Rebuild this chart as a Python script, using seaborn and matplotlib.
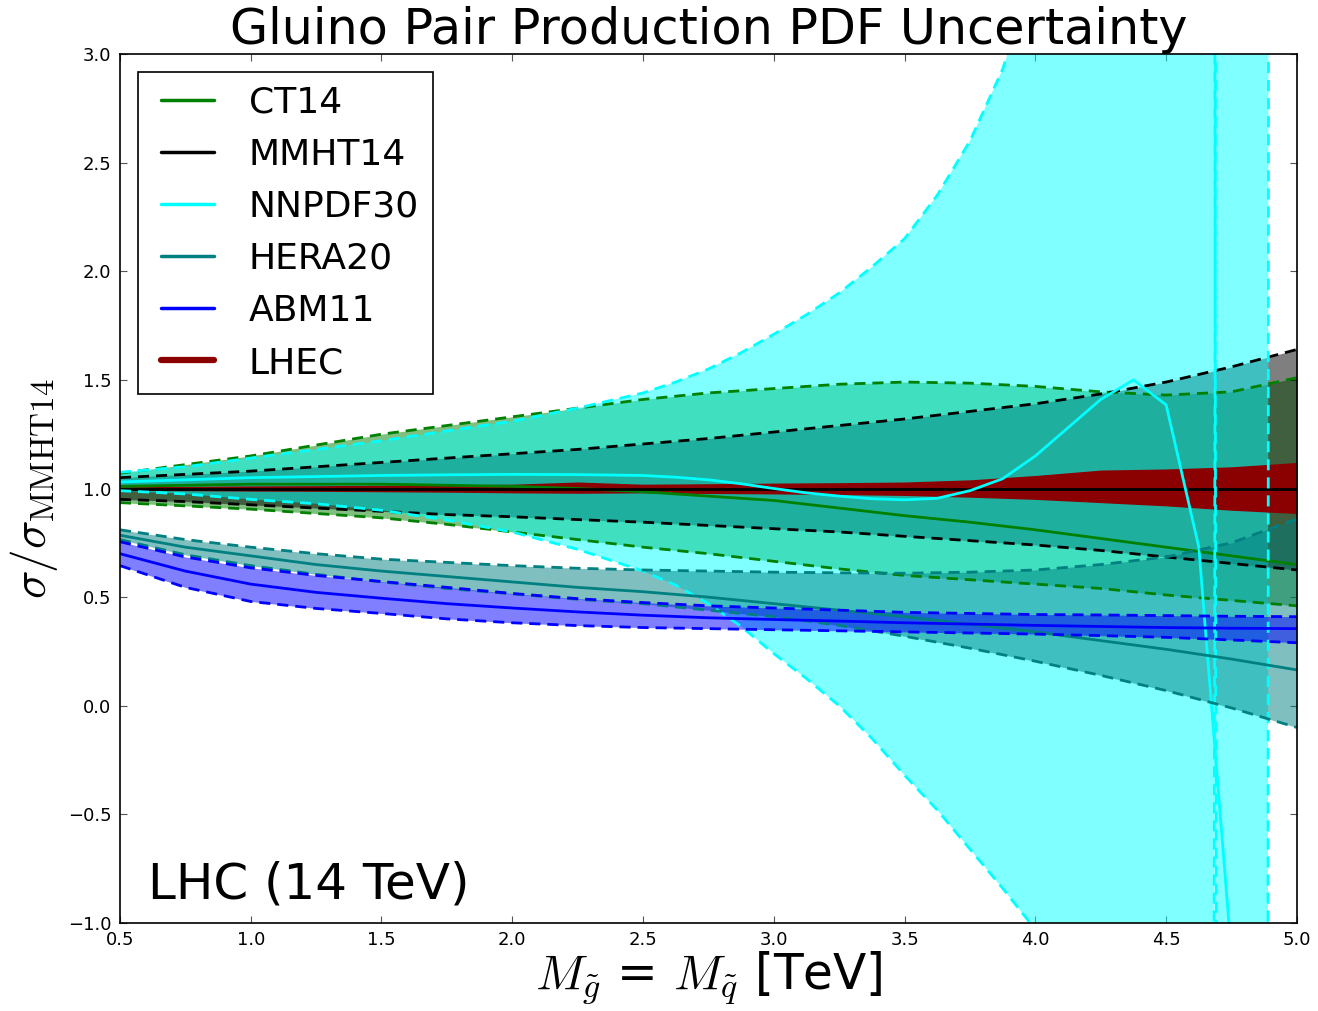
import matplotlib
matplotlib.use("Agg")
import matplotlib.pyplot as plt
from matplotlib.lines import Line2D
from matplotlib.legend_handler import HandlerLine2D
import seaborn as sns

# gluino mass grid [TeV]
mass = [0.5, 0.75, 1.0, 1.25, 1.5, 1.75, 2.0, 2.25, 2.5, 2.75, 3.0,
        3.25, 3.5, 3.75, 4.0, 4.25, 4.5, 4.75, 5.0]

ct14_up = [1.07, 1.11, 1.15, 1.20, 1.25, 1.29, 1.33, 1.37, 1.41, 1.44, 1.46,
           1.48, 1.49, 1.485, 1.47, 1.445, 1.43, 1.445, 1.51]
ct14_mid = [1.01, 1.015, 1.02, 1.02, 1.02, 1.015, 1.01, 1.0, 0.985, 0.965, 0.945,
            0.91, 0.875, 0.845, 0.81, 0.77, 0.73, 0.69, 0.65]
ct14_low = [0.935, 0.92, 0.905, 0.885, 0.865, 0.835, 0.80, 0.765, 0.73, 0.70, 0.665,
            0.63, 0.60, 0.58, 0.56, 0.54, 0.51, 0.485, 0.46]

mmht_up = [1.05, 1.065, 1.08, 1.10, 1.12, 1.14, 1.16, 1.18, 1.205, 1.23, 1.26,
           1.29, 1.32, 1.355, 1.39, 1.435, 1.49, 1.56, 1.64]
mmht_mid = [1.0, 1.0, 1.0, 1.0, 1.0, 1.0, 1.0, 1.0, 1.0, 1.0, 1.0,
            1.0, 1.0, 1.0, 1.0, 1.0, 1.0, 1.0, 1.0]
mmht_low = [0.95, 0.94, 0.925, 0.91, 0.895, 0.88, 0.87, 0.857, 0.845, 0.83, 0.815,
            0.80, 0.78, 0.76, 0.74, 0.715, 0.685, 0.655, 0.625]

hera_up = [0.81, 0.765, 0.73, 0.70, 0.675, 0.66, 0.645, 0.633, 0.625, 0.62, 0.615,
           0.612, 0.61, 0.615, 0.625, 0.65, 0.685, 0.75, 0.86]
hera_mid = [0.785, 0.73, 0.69, 0.65, 0.62, 0.595, 0.57, 0.545, 0.525, 0.50, 0.47,
            0.44, 0.41, 0.375, 0.34, 0.30, 0.26, 0.215, 0.165]
hera_low = [0.765, 0.695, 0.645, 0.605, 0.57, 0.54, 0.515, 0.49, 0.47, 0.44, 0.41,
            0.37, 0.32, 0.265, 0.205, 0.14, 0.07, -0.01, -0.10]

abm_up = [0.755, 0.685, 0.635, 0.60, 0.572, 0.545, 0.517, 0.493, 0.475, 0.46, 0.45,
          0.44, 0.43, 0.425, 0.42, 0.418, 0.415, 0.412, 0.41]
abm_mid = [0.70, 0.62, 0.56, 0.522, 0.495, 0.47, 0.45, 0.432, 0.417, 0.405, 0.397,
           0.39, 0.382, 0.376, 0.37, 0.365, 0.36, 0.357, 0.355]
abm_low = [0.645, 0.545, 0.48, 0.448, 0.425, 0.40, 0.382, 0.369, 0.36, 0.355, 0.35,
           0.345, 0.34, 0.335, 0.33, 0.323, 0.315, 0.303, 0.29]

lhec_up = [1.008, 1.01, 1.012, 1.013, 1.015, 1.017, 1.02, 1.03, 1.02, 1.022, 1.025,
           1.027, 1.03, 1.04, 1.06, 1.085, 1.09, 1.10, 1.12]
lhec_low = [0.992, 0.99, 0.988, 0.987, 0.985, 0.983, 0.98, 0.978, 0.98, 0.977, 0.975,
            0.972, 0.968, 0.96, 0.95, 0.935, 0.92, 0.90, 0.885]

# NNPDF needs a finer grid near the high-mass blow-up
nnpdf_mass = [0.5, 0.75, 1.0, 1.25, 1.5, 1.75, 2.0, 2.25, 2.5, 2.625, 2.75, 2.875, 3.0,
              3.125, 3.25, 3.375, 3.5, 3.625, 3.75, 3.875, 4.0, 4.125, 4.25, 4.375,
              4.5, 4.625, 4.75, 4.875, 5.0]
nnpdf_up = [1.075, 1.10, 1.14, 1.18, 1.22, 1.265, 1.31, 1.37, 1.44, 1.49, 1.55, 1.625, 1.71,
            1.80, 1.90, 2.02, 2.15, 2.35, 2.6, 2.93, 3.4, 4.0, 4.8, 6.0,
            8.5, 52.0, -48.0, -30.0, 220.0]
nnpdf_mid = [1.03, 1.04, 1.05, 1.055, 1.06, 1.063, 1.065, 1.064, 1.06, 1.052, 1.04, 1.022, 1.0,
             0.98, 0.965, 0.953, 0.948, 0.955, 0.99, 1.045, 1.15, 1.28, 1.41, 1.50,
             1.385, 0.73, -1.15, -9.0, -9.0]
nnpdf_low = [0.99, 0.975, 0.95, 0.93, 0.90, 0.855, 0.80, 0.72, 0.62, 0.555, 0.47, 0.365, 0.24,
             0.125, 0.0, -0.15, -0.32, -0.48, -0.66, -0.84, -1.03, -1.3, -1.7, -2.3,
             -3.5, -48.0, 52.0, 60.0, 80.0]

sets = [
    ("CT14", "#008000", mass, ct14_low, ct14_mid, ct14_up),
    ("MMHT14", "#000000", mass, mmht_low, mmht_mid, mmht_up),
    ("NNPDF30", "#00ffff", nnpdf_mass, nnpdf_low, nnpdf_mid, nnpdf_up),
    ("HERA20", "#008080", mass, hera_low, hera_mid, hera_up),
    ("ABM11", "#0000ff", mass, abm_low, abm_mid, abm_up),
]

sns.set_style("ticks")
plt.rcParams['font.family'] = ['DejaVu Sans']
plt.rcParams['mathtext.fontset'] = 'cm'
plt.rcParams['text.color'] = 'black'
plt.rcParams['axes.labelcolor'] = 'black'
plt.rcParams['xtick.color'] = 'black'
plt.rcParams['ytick.color'] = 'black'

fig = plt.figure(figsize=(13.18, 10.11), dpi=100)
ax = fig.add_axes([0.091, 0.087, 0.893, 0.8596])

# bands
for name, col, x, lo, mid, hi in sets:
    ax.fill_between(x, lo, hi, color=col, alpha=0.5, lw=0)
ax.fill_between(mass, lhec_low, lhec_up, color="#8b0000", lw=0)

# edges and central values
for name, col, x, lo, mid, hi in sets:
    for edge in (lo, hi):
        sns.lineplot(x=x, y=edge, ax=ax, color=col, lw=2, dashes=False,
                     linestyle=(0, (4, 2.5)), errorbar=None, legend=False)
    sns.lineplot(x=x, y=mid, ax=ax, color=col, lw=2, errorbar=None, legend=False)

ax.set_xlim(0.5, 5.0)
ax.set_ylim(-1.0, 3.0)
ax.set_xticks([0.5, 1.0, 1.5, 2.0, 2.5, 3.0, 3.5, 4.0, 4.5, 5.0])
ax.set_yticks([-1.0, -0.5, 0.0, 0.5, 1.0, 1.5, 2.0, 2.5, 3.0])
ax.tick_params(axis='both', which='both', direction='in', length=5, width=0.8,
               top=True, right=True, labelsize=13, pad=6, color='#555555',
               labelcolor='black')
for s in ax.spines.values():
    s.set_linewidth(1.2)
    s.set_color('black')

ax.set_title("Gluino Pair Production PDF Uncertainty", fontsize=35.5, pad=3)
ax.set_xlabel(r"$M_{\tilde{g}}$ = $M_{\tilde{q}}$ [TeV]", fontsize=35, labelpad=0)
ax.set_ylabel(r"$\sigma/\sigma_{\rm MMHT14}$", fontsize=34, labelpad=6)
ax.text(0.024, 0.028, "LHC (14 TeV)", transform=ax.transAxes, fontsize=36)

handles = [Line2D([], [], color=c, lw=2.5) for _, c, *_ in sets]
handles.append(Line2D([], [], color="#8b0000", lw=4.5))
labels = [s[0] for s in sets] + ["LHEC"]
leg = ax.legend(handles, labels, loc="upper left", fontsize=26, handlelength=1.72,
                handletextpad=0.97, labelspacing=0.5, borderpad=0.38,
                borderaxespad=0.5, fancybox=False, framealpha=1,
                handler_map={Line2D: HandlerLine2D(xpad=0.25)})
leg.get_frame().set_edgecolor("black")
leg.get_frame().set_linewidth(1.2)

fig.savefig("out.png", dpi=100)
